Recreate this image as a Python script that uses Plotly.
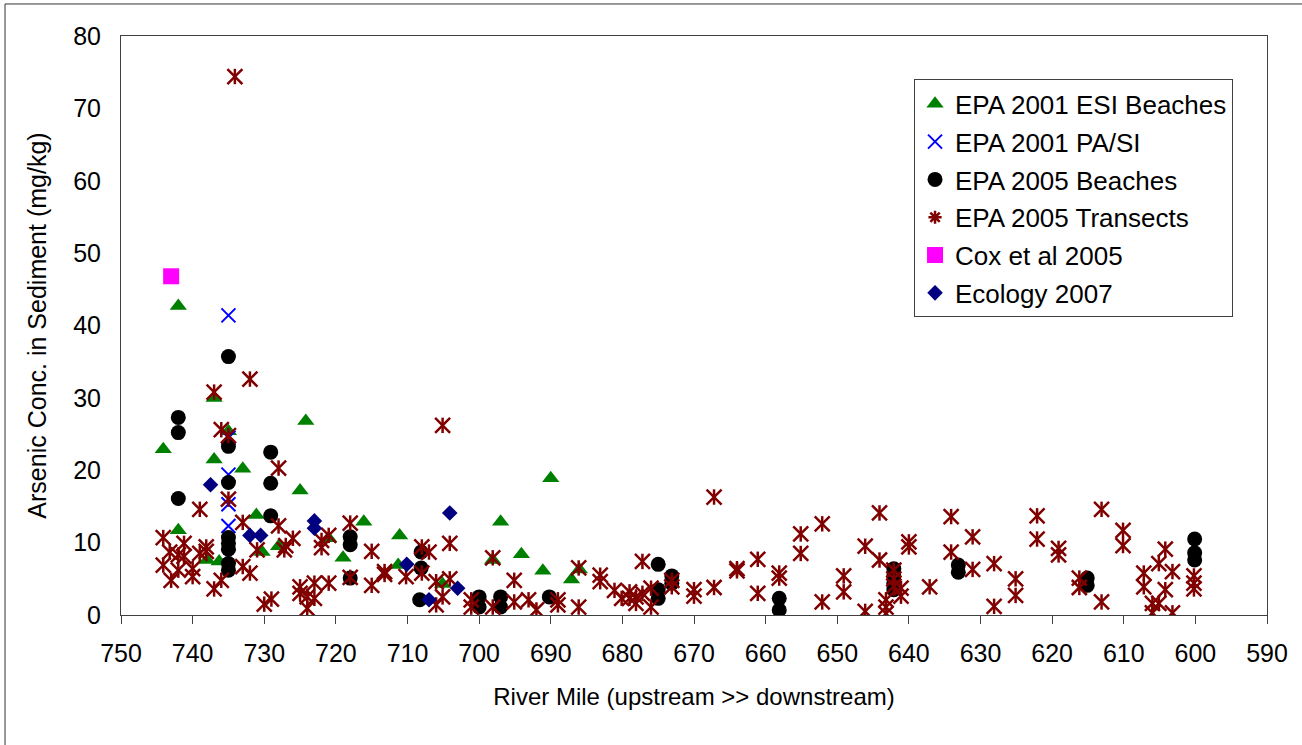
import plotly.graph_objects as go

# ---------------- data ----------------
esi_mile = [744.1, 742, 742, 738, 737, 737, 736.3, 735, 733, 731.1, 730.3, 728, 725, 724.2,
            721, 719, 716.1, 711.1, 711.3, 705.1, 698.1, 697, 694.1, 691.1, 690, 687.1, 686]
esi_as = [22.9, 42.7, 11.7, 7.6, 30.0, 21.5, 7.4, 25.4, 20.2, 13.8, 8.7, 9.5, 17.2, 26.8,
          10.6, 7.9, 12.9, 11.0, 6.9, 4.3, 7.6, 12.9, 8.4, 6.1, 18.9, 4.9, 6.3]

pasi_mile = [735, 735, 735, 735, 735, 735]
pasi_as = [41.4, 24.5, 19.4, 15.3, 12.3, 8.1]

b05_mile = [742, 742, 742, 735, 735, 735, 735, 735, 735, 735, 735, 729.1, 729.1, 729.1,
            718, 718, 718, 708.1, 708.1, 708.3, 700, 700, 697, 697, 690.2, 675, 675, 675,
            673.1, 673.1, 658.1, 658.1, 642.1, 642.1, 642.1, 642.1, 633.1, 633.1, 615.1, 615.1,
            600.1, 600.1, 600.1]
b05_as = [27.3, 25.2, 16.1, 35.7, 23.3, 18.3, 10.7, 9.9, 9.1, 7.1, 6.2, 22.5, 18.2, 13.7,
          10.8, 9.7, 5.1, 8.7, 6.5, 2.1, 2.5, 1.1, 2.5, 1.1, 2.5, 7.0, 3.5, 2.3,
          5.4, 4.4, 2.3, 0.7, 6.4, 5.4, 4.4, 3.5, 6.9, 5.9, 5.1, 4.1,
          10.5, 8.6, 7.6]

tr_mile = [744.1, 744.1, 743.2, 743, 742, 742, 741.2, 741.2, 740, 740, 739, 739, 738.1, 738.1,
           737, 737, 736, 736, 735, 735, 734.1, 733, 733, 732, 732, 731, 730, 729,
           728, 728, 727.2, 727, 726, 725, 725, 724, 724, 723, 723, 722, 722, 721, 721,
           718, 718, 715, 715, 713.2, 713.2, 710.2, 708, 708, 707, 706, 706, 705.1, 705.1,
           704.1, 704.1, 701.1, 701.1, 698.1, 698.1, 695.1, 695.1, 693.1, 692, 689, 689,
           686.1, 686.1, 683.1, 683.1, 681.1, 680.1, 679, 679, 678.1, 678.1, 677.2, 677.2,
           676, 676, 673.1, 673.1, 670, 670, 667.2, 667.2, 664, 664, 661.1, 661.1, 658.1, 658.1,
           655.1, 655.1, 652.1, 652.1, 649.1, 649.1, 646.1, 646.1, 644.1, 644.1,
           643.2, 643.2, 643.2, 642.1, 642.1, 642.1, 641.1, 641.1, 640, 640, 637.1,
           634.1, 634.1, 631.1, 631.1, 628.1, 628.1, 625.1, 625.1, 622.1, 622.1, 619.1, 619.1,
           616.2, 616.2, 613.1, 613.1, 610.1, 610.1, 607.2, 607.2, 606, 606, 605.1, 605.1,
           604.2, 604.2, 603.2, 603.2, 600.2, 600.2, 600.2]
tr_as = [10.7, 6.9, 8.7, 4.8, 8.3, 6.2, 9.9, 8.1, 6.4, 5.3, 14.6, 8.5, 9.4, 8.8,
         30.8, 3.6, 25.6, 4.8, 24.8, 16.0, 74.4, 12.8, 6.7, 32.6, 5.8, 9.0, 1.5, 2.2,
         20.3, 12.3, 9.0, 9.6, 10.6, 3.9, 3.0, 2.5, 0.9, 4.4, 2.3, 10.3, 9.3, 11.0, 4.4,
         12.7, 5.2, 8.8, 4.1, 6.0, 5.6, 5.3, 9.4, 5.8, 8.7, 4.6, 1.4, 26.2, 2.5,
         9.9, 5.0, 2.1, 1.1, 7.9, 1.1, 4.8, 1.8, 2.1, 0.7, 2.1, 1.4,
         6.5, 1.1, 5.5, 4.6, 3.4, 2.3, 3.2, 2.3, 2.5, 1.6, 3.0, 7.4,
         3.7, 1.1, 4.8, 3.9, 3.5, 2.6, 16.3, 3.8, 6.4, 6.1, 7.7, 3.0, 5.8, 5.1,
         11.2, 8.5, 12.6, 1.8, 5.4, 3.2, 9.5, 0.5, 14.1, 7.6,
         2.1, 1.1, 0.2, 6.2, 5.0, 4.0, 3.7, 2.6, 10.1, 9.4, 3.9,
         13.6, 8.7, 10.8, 6.3, 7.1, 1.2, 5.0, 2.7, 13.7, 10.5, 9.2, 8.3,
         5.1, 3.8, 14.6, 1.8, 11.7, 9.6, 5.8, 3.9, 1.6, 0.3, 7.1, 1.6,
         9.1, 3.5, 6.0, 0.3, 5.4, 4.4, 3.6]

cox_mile = [743]
cox_as = [46.8]

eco_mile = [737.5, 732, 730.5, 723, 723, 710.1, 707, 704.1, 703]
eco_as = [18.0, 11.0, 11.0, 13.0, 12.0, 7.0, 2.1, 14.1, 3.7]

x_ticks = list(range(750, 589, -10))
y_ticks = list(range(0, 81, 10))

FONT = "Arial, 'Liberation Sans', sans-serif"
GREEN, BLUE, BLACK, MAROON, MAGENTA, NAVY = "#008000", "#0000FF", "#000000", "#800000", "#FF00FF", "#000080"

fig = go.Figure()
fig.add_trace(go.Scatter(x=esi_mile, y=esi_as, mode="markers", name="EPA 2001 ESI Beaches",
                         marker=dict(symbol="triangle-up", size=15, color=GREEN)))
fig.add_trace(go.Scatter(x=pasi_mile, y=pasi_as, mode="markers", name="EPA 2001 PA/SI",
                         marker=dict(symbol="x-thin-open", size=14, color=BLUE,
                                     line=dict(color=BLUE, width=2))))
fig.add_trace(go.Scatter(x=b05_mile, y=b05_as, mode="markers", name="EPA 2005 Beaches",
                         marker=dict(symbol="circle", size=15, color=BLACK)))
# star marker = X + vertical bar
fig.add_trace(go.Scatter(x=tr_mile, y=tr_as, mode="markers", name="EPA 2005 Transects",
                         legendgroup="tr", showlegend=False,
                         marker=dict(symbol="x-thin-open", size=15, color=MAROON,
                                     line=dict(color=MAROON, width=2.5))))
fig.add_trace(go.Scatter(x=tr_mile, y=tr_as, mode="markers", name="EPA 2005 Transects",
                         legendgroup="tr", showlegend=False,
                         marker=dict(symbol="line-ns-open", size=11, color=MAROON,
                                     line=dict(color=MAROON, width=2.5))))
fig.add_trace(go.Scatter(x=[None], y=[None], mode="markers", name="EPA 2005 Transects",
                         legendgroup="tr",
                         marker=dict(symbol="asterisk-open", size=11, color=MAROON,
                                     line=dict(color=MAROON, width=2.5))))
fig.add_trace(go.Scatter(x=cox_mile, y=cox_as, mode="markers", name="Cox et al 2005",
                         marker=dict(symbol="square", size=16, color=MAGENTA)))
fig.add_trace(go.Scatter(x=eco_mile, y=eco_as, mode="markers", name="Ecology 2007",
                         marker=dict(symbol="diamond", size=12, color=NAVY)))

fig.update_layout(
    width=1302, height=745,
    margin=dict(l=121, r=35, t=36, b=130),
    paper_bgcolor="white", plot_bgcolor="white",
    font=dict(family=FONT, size=24, color="black"),
    showlegend=True,
    legend=dict(x=0.692, y=0.925, xanchor="left", yanchor="top",
                bgcolor="white", bordercolor="#404040", borderwidth=1,
                font=dict(family=FONT, size=26, color="black"),
                tracegroupgap=1),
    xaxis=dict(range=[750, 590], tickmode="array", tickvals=x_ticks,
               ticks="outside", ticklen=8, tickcolor="#404040", tickwidth=1,
               showline=True, linecolor="#404040", linewidth=1, mirror=True,
               showgrid=False, zeroline=False, ticklabelstandoff=8,
               tickfont=dict(size=25),
               title=dict(text="River Mile (upstream >> downstream)", font=dict(size=24), standoff=22)),
    yaxis=dict(range=[0, 80], tickmode="array", tickvals=y_ticks,
               ticks="", showline=True, linecolor="#404040", linewidth=1, mirror=True,
               showgrid=False, zeroline=False, ticklabelstandoff=14,
               tickfont=dict(size=25),
               title=dict(text="Arsenic Conc. in Sediment (mg/kg)", font=dict(size=25), standoff=19)),
    yaxis2=dict(overlaying="y", side="right", matches="y", range=[0, 80],
                tickmode="array", tickvals=y_ticks, ticks="inside", ticklen=7,
                tickcolor="#404040", showticklabels=False, showgrid=False,
                zeroline=False, showline=False),
    shapes=[dict(type="rect", xref="paper", yref="paper",
                 x0=-0.1012, x1=1.04, y0=-0.26, y1=1.0553,
                 line=dict(color="#333333", width=1), fillcolor="rgba(0,0,0,0)", layer="below")],
)

fig.write_html("out.html", config={"displayModeBar": False},
               post_script="document.body.style.margin='0px';")
